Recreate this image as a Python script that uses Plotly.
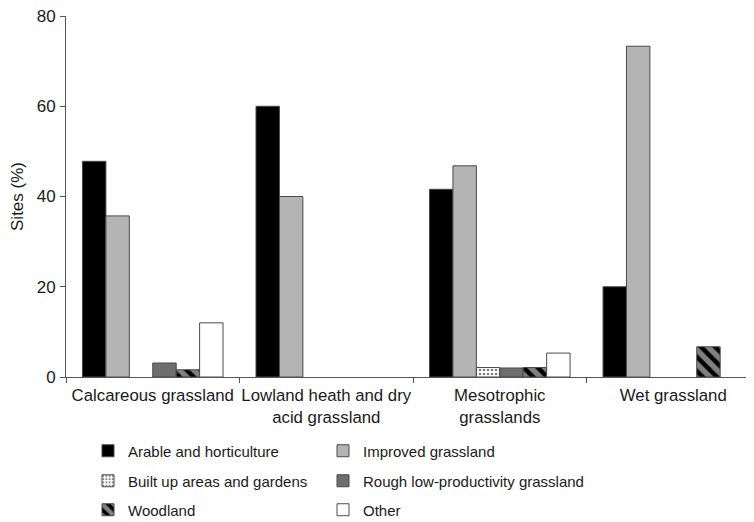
import plotly.graph_objects as go

categories = ["Calcareous grassland", "Lowland heath and dry<br>acid grassland",
              "Mesotrophic<br>grasslands", "Wet grassland"]
series_names = ["Arable and horticulture", "Improved grassland",
                "Built up areas and gardens", "Rough low-productivity grassland",
                "Woodland", "Other"]
arable = [47.8, 60.0, 41.6, 20.0]
improved = [35.7, 40.0, 46.8, 73.3]
built_up = [0, 0, 2.1, 0]
rough = [3.1, 0, 2.0, 0]
woodland = [1.6, 0, 2.1, 6.7]
other = [12.0, 0, 5.3, 0]
y_ticks = [0, 20, 40, 60, 80]

values = [arable, improved, built_up, rough, woodland, other]
fills = ["#000000", "#b4b4b4", "#ffffff", "#6e6e6e", "#000000", "#ffffff"]
patterns = [None, None,
            dict(shape=".", fgcolor="#000000", bgcolor="#ffffff", size=4, solidity=0.35),
            None,
            dict(shape="\\", fgcolor="#ffffff", bgcolor="#000000", size=10, solidity=0.55),
            None]

# the page body has an 8px margin; figure is sized so it ends at the window edge
OFF = 8
W, H = 754 - OFF, 522 - OFF
plot_left, plot_top, plot_bottom = 66 - OFF, 16 - OFF, 377 - OFF
plot_w, plot_h = W - plot_left, plot_bottom - plot_top
col_x = [88 - OFF, 323 - OFF]
row_y = [451 - OFF, 481 - OFF, 510 - OFF]

fig = go.Figure()
layout_legends = {}
for i, (name, vals, col, pat) in enumerate(zip(series_names, values, fills, patterns)):
    marker = dict(color=col, line=dict(color="#4a4a4a", width=1))
    if pat:
        marker["pattern"] = pat
    lid = "legend" if i == 0 else f"legend{i + 1}"
    fig.add_trace(go.Bar(name=name, x=categories, y=[v if v else None for v in vals],
                         marker=marker, legend=lid, showlegend=True))
    layout_legends[lid] = dict(
        x=(col_x[i % 2] - plot_left) / plot_w, xanchor="left",
        y=(plot_bottom - row_y[i // 2]) / plot_h, yanchor="middle",
        font=dict(size=15), bgcolor="rgba(0,0,0,0)", itemclick=False, visible=True,
    )

fig.update_layout(
    width=W, height=H, showlegend=True,
    margin=dict(l=plot_left, r=0, t=plot_top, b=H - plot_bottom, autoexpand=False),
    paper_bgcolor="white", plot_bgcolor="white",
    font=dict(family="Arial, Liberation Sans, sans-serif", size=16, color="#1a1a1a"),
    barmode="group", bargap=0.19, bargroupgap=0,
    xaxis=dict(range=[-0.5, 3.465], showline=True, linecolor="#555555", linewidth=1,
               ticks="outside", tickson="boundaries", ticklen=5, tickcolor="#555555",
               showgrid=False, tickfont=dict(size=16.8), tickangle=0,
               ticklabelstandoff=3, automargin=False, ticklabeloverflow="allow"),
    yaxis=dict(range=[0, 80], tickvals=y_ticks, showline=True, linecolor="#555555", linewidth=1,
               ticks="outside", ticklen=5, tickcolor="#555555", showgrid=False, zeroline=False,
               title=dict(text="Sites (%)", font=dict(size=17), standoff=10),
               tickfont=dict(size=17), ticklabelstandoff=1, automargin=False,
               ticklabeloverflow="allow"),
    **layout_legends,
)

fig.write_html("out.html")
